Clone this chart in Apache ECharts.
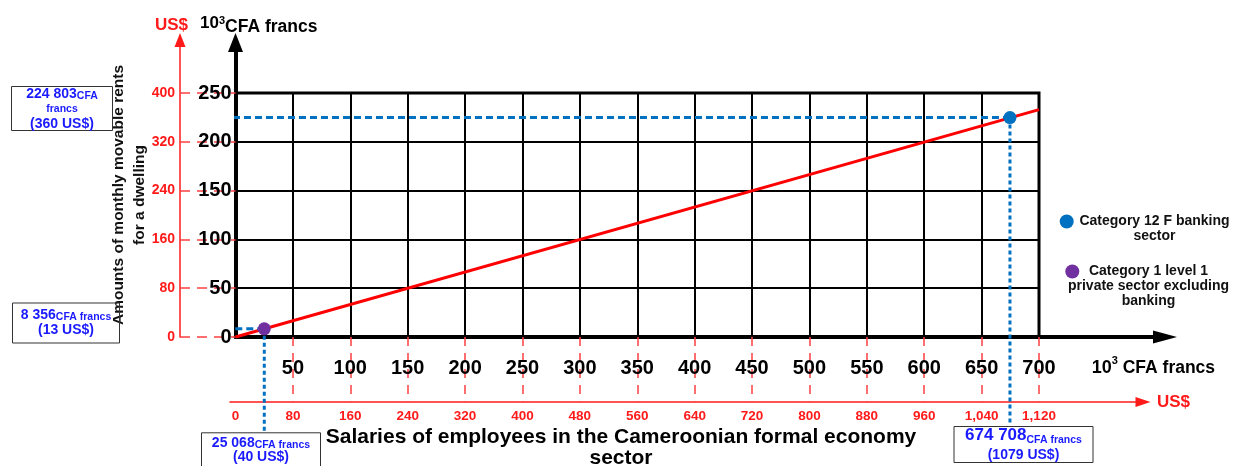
<!DOCTYPE html>
<html>
<head>
<meta charset="utf-8">
<title>Monthly movable rents vs salaries</title>
<script src="https://cdn.jsdelivr.net/npm/echarts@6/dist/echarts.min.js"></script>
<style>
  html, body { margin: 0; padding: 0; background: #fff; }
  #chart { width: 1238px; height: 466px; }
</style>
</head>
<body>
<div id="chart"></div>
<script>
// axes: 10^3 CFA francs, and the US$ equivalent (1 000 CFA = 1.6 US$)
const salaryMax = 700, salaryStep = 50;
const rentMax = 250, rentStep = 50;
const usdPerThousandCfa = 1.6;

// red line (10^3 CFA francs)
const trendSalary = [0, 700];
const trendRent = [0, 233];

// the two highlighted categories
const groupNames = [
  'Category 12 F banking\nsector',
  'Category 1 level 1\nprivate sector excluding\nbanking'
];
const groupSalary = [674.708, 25.068];   // 10^3 CFA francs
const groupRent = [224.803, 8.356];      // 10^3 CFA francs
const groupSalaryUsd = [1079, 40];
const groupRentUsd = [360, 13];

// styles / layout
const FONT = '"Liberation Sans", Arial, sans-serif';
const RED = '#ff1a1a';
const TICK_RED = '#ff4040';
const BOX_BLUE = '#1a1aff';
const groupColors = ['#0070c0', '#7030a0'];
const guideColor = '#0070c0';
// where the dotted guides stop (in axis units, they run out to the boxes)
const guideLeft = [-118, -100.6];
const guideBottom = [-89, -98.4];

function txt(size, color, lh, extra) {
  return Object.assign({ fontFamily: FONT, fontSize: size, fontWeight: 'bold', color: color, lineHeight: lh }, extra || {});
}
function spaced(v) {
  return Math.round(v * 1000).toString().replace(/\B(?=(\d{3})+(?!\d))/g, ' ');
}
function box(left, top, padding, text, rich) {
  return {
    left: left, top: top, padding: padding, text: text,
    textAlign: 'center', textVerticalAlign: 'top',
    borderColor: '#333', borderWidth: 1,
    textStyle: { rich: rich }
  };
}

const myChart = echarts.init(document.getElementById('chart'));

const titles = [
  {
    left: 200, top: 15, padding: 0, textAlign: 'left', textVerticalAlign: 'top',
    text: '{n|10}{s|3}{c|CFA francs}',
    textStyle: { rich: {
      n: txt(17, '#000', 16, { verticalAlign: 'top' }),
      s: txt(11, '#000', 10, { verticalAlign: 'top' }),
      c: txt(17.5, '#000', 24)
    } }
  },
  {
    left: 1091.7, top: 355.7, padding: 0, textAlign: 'left', textVerticalAlign: 'top',
    text: '{n|10}{s|3}{c| CFA francs}',
    textStyle: { rich: {
      n: txt(18, '#000', 24),
      s: txt(11, '#000', 12, { verticalAlign: 'top' }),
      c: txt(17.5, '#000', 24)
    } }
  },
  {
    left: 621, top: 426.5, padding: 0, textAlign: 'center', textVerticalAlign: 'top',
    text: 'Salaries of employees in the Cameroonian formal economy\nsector',
    textStyle: txt(21, '#000', 21)
  },
  box(47, 85, [1, 15, 0, 15],
    '{a|' + spaced(groupRent[0]) + '}{s|CFA}\n{f|francs}\n{a|(' + groupRentUsd[0] + ' US$)}',
    { a: txt(14, BOX_BLUE, 16), s: txt(10.5, BOX_BLUE, 12, { verticalAlign: 'bottom' }), f: txt(10.5, BOX_BLUE, 14) }),
  box(57.5, 302, [5.5, 8.5, 6.5, 8.5],
    '{a|' + spaced(groupRent[1]) + '}{s|CFA francs}\n{a|(' + groupRentUsd[1] + ' US$)}',
    { a: txt(14, BOX_BLUE, 15), s: txt(10.5, BOX_BLUE, 12, { verticalAlign: 'bottom' }) }),
  box(250.4, 433, [3.3, 10.6, 10, 10.6],
    '{a|' + spaced(groupSalary[1]) + '}{s|CFA francs}\n{a|(' + groupSalaryUsd[1] + ' US$)}',
    { a: txt(14, BOX_BLUE, 14), s: txt(10.5, BOX_BLUE, 11, { verticalAlign: 'bottom' }) }),
  box(1011.7, 424, [0, 11.8, 0, 11.8],
    '{b|' + spaced(groupSalary[0]) + '}{s|CFA francs}\n{a|(' + groupSalaryUsd[0] + ' US$)}',
    { b: txt(17, BOX_BLUE, 22), s: txt(10.5, BOX_BLUE, 16, { verticalAlign: 'bottom' }), a: txt(14, BOX_BLUE, 19) })
];

const legendLeft = [1059.7, 1065.3];
const legendTop = [199.5, 234.5];
const legendIcon = [14, 14];
const legendTextWidth = [151.6, 128.4];
const legends = groupNames.map(function (name, i) {
  return {
    data: [name], selectedMode: false, orient: 'vertical', icon: 'circle', padding: 0,
    left: legendLeft[i], top: legendTop[i], itemWidth: legendIcon[i], itemHeight: legendIcon[i],
    formatter: function (n) {
      const lines = n.split('\n');
      // blank lines on top so the icon sits next to the first line
      return lines.slice(1).map(function () { return '{t| }'; })
        .concat(lines.map(function (l) { return '{t|' + l + '}'; })).join('\n');
    },
    textStyle: { rich: { t: txt(14, '#111', 15, { width: legendTextWidth[i], align: 'center' }) } }
  };
});

const hidden = { show: false };
const noParts = {
  axisTick: hidden, axisLabel: hidden, splitLine: hidden
};

const series = [{
  name: 'trend', type: 'line', xAxisIndex: 0, yAxisIndex: 0,
  data: trendSalary.map(function (x, i) { return [x, trendRent[i]]; }),
  symbol: 'none', silent: true, z: 3,
  lineStyle: { color: '#ff0000', width: 3 }
}];
groupNames.forEach(function (name, i) {
  series.push({
    name: 'guide-h-' + i, type: 'line', xAxisIndex: 0, yAxisIndex: 0, clip: false,
    data: [[groupSalary[i], groupRent[i]], [guideLeft[i], groupRent[i]]],
    symbol: 'none', silent: true, z: 4,
    lineStyle: { color: guideColor, width: 3, type: [7, 4] }
  });
  series.push({
    name: 'guide-v-' + i, type: 'line', xAxisIndex: 0, yAxisIndex: 0, clip: false,
    data: [[groupSalary[i], groupRent[i]], [groupSalary[i], guideBottom[i]]],
    symbol: 'none', silent: true, z: 4,
    lineStyle: { color: guideColor, width: 3, type: [4, 3] }
  });
});
groupNames.forEach(function (name, i) {
  series.push({
    name: name, type: 'scatter', xAxisIndex: 0, yAxisIndex: 0,
    data: [[groupSalary[i], groupRent[i]]],
    symbolSize: 13, z: 5,
    itemStyle: { color: groupColors[i], opacity: 1 }
  });
});

const option = {
  animation: false,
  backgroundColor: '#fff',
  textStyle: { fontFamily: FONT },
  title: titles,
  legend: legends,
  grid: [
    { left: 235.5, right: 199, top: 93, bottom: 129, show: true, borderWidth: 3, borderColor: '#000', outerBoundsMode: 'none' },
    { left: 235.5, right: 73, top: 42.5, bottom: 129, outerBoundsMode: 'none' },
    { left: 180, width: 100, top: 40, bottom: 129, outerBoundsMode: 'none' },
    { left: 230, right: 95, top: 380, bottom: 64, outerBoundsMode: 'none' }
  ],
  xAxis: [
    {
      gridIndex: 0, type: 'value', min: 0, max: salaryMax, interval: salaryStep,
      axisLine: { show: false },
      axisTick: { show: true, length: 65, lineStyle: { color: TICK_RED, width: 1.5, type: [9, 7] } },
      axisLabel: { showMinLabel: false, margin: 21, fontSize: 20, fontWeight: 'bold', color: '#000', fontFamily: FONT },
      splitLine: { show: true, lineStyle: { color: '#000', width: 2 } }
    },
    {
      gridIndex: 0, type: 'value', position: 'bottom', offset: 65,
      min: 0, max: salaryMax * usdPerThousandCfa, interval: salaryStep * usdPerThousandCfa,
      axisLine: { show: false }, axisTick: { show: false }, splitLine: { show: false },
      axisLabel: {
        margin: 7, fontSize: 13.5, fontWeight: 'bold', color: RED, fontFamily: FONT,
        formatter: function (v) { return v.toLocaleString('en-US'); }
      }
    },
    Object.assign({
      gridIndex: 1, type: 'value', min: 0, max: 1,
      axisLine: { show: true, onZero: false, lineStyle: { color: '#000', width: 4 }, symbol: ['none', 'triangle'], symbolSize: [13, 24] }
    }, noParts),
    { gridIndex: 2, type: 'value', min: 0, max: 1, show: false },
    Object.assign({
      gridIndex: 3, type: 'value', min: 0, max: 1,
      axisLine: { show: true, onZero: false, lineStyle: { color: RED, width: 1.5 }, symbol: ['none', 'triangle'], symbolSize: [10, 15] },
      name: 'US$', nameLocation: 'end', nameGap: 14, nameMoveOverlap: false,
      nameTextStyle: txt(17, RED, 20)
    }, noParts)
  ],
  yAxis: [
    {
      gridIndex: 0, type: 'value', min: 0, max: rentMax, interval: rentStep,
      axisLine: { show: false },
      // red dashed ticks run out to the US$ axis
      axisTick: { show: true, length: 55.5, lineStyle: { color: TICK_RED, width: 1.5, type: [10, 7], dashOffset: 5.5 } },
      axisLabel: { margin: 4, fontSize: 20, fontWeight: 'bold', color: '#000', fontFamily: FONT },
      splitLine: { show: true, lineStyle: { color: '#000', width: 2 } }
    },
    {
      gridIndex: 0, type: 'value', position: 'left', offset: 55.5,
      min: 0, max: rentMax * usdPerThousandCfa, interval: rentStep * usdPerThousandCfa,
      axisLine: { show: false }, splitLine: { show: false }, axisTick: { show: false },
      axisLabel: { margin: 5, fontSize: 14, fontWeight: 'bold', color: RED, fontFamily: FONT }
    },
    Object.assign({
      gridIndex: 1, type: 'value', min: 0, max: 1,
      axisLine: { show: true, onZero: false, lineStyle: { color: '#000', width: 4 }, symbol: ['none', 'triangle'], symbolSize: [15, 19] },
      name: 'Amounts of monthly movable rents\nfor a dwelling',
      nameLocation: 'middle', nameRotate: 90, nameGap: 85, nameMoveOverlap: false,
      nameTextStyle: txt(15.5, '#111', 21, { padding: [0, 10.5, 0, 0] })
    }, noParts),
    Object.assign({
      gridIndex: 2, type: 'value', min: 0, max: 1,
      axisLine: { show: true, onZero: false, lineStyle: { color: RED, width: 1.5 }, symbol: ['none', 'triangle'], symbolSize: [11, 14] },
      name: 'US$', nameLocation: 'end', nameGap: 5, nameMoveOverlap: false,
      nameTextStyle: txt(17, RED, 20, { padding: [0, 17, 0, 0] })
    }, noParts),
    { gridIndex: 3, type: 'value', min: 0, max: 1, show: false }
  ],
  series: series
};

myChart.setOption(option);
</script>
</body>
</html>
